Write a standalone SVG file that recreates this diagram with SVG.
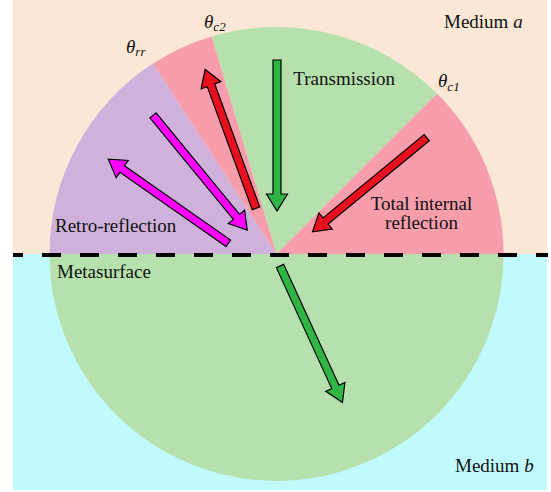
<svg xmlns="http://www.w3.org/2000/svg" width="551" height="492" viewBox="0 0 551 492">
<style>
.t{font-family:"Liberation Serif","Times New Roman",serif;font-size:19px;fill:#111}
.i{font-style:italic}
.s{font-size:13px;font-style:italic}
.arr{stroke:#000;stroke-width:1.2;stroke-linejoin:miter}
.g{fill:#2fb544}.r{fill:#e8101e}.m{fill:#ff00ff}
.pink{fill:#f79dac}.grn{fill:#b6e1ad}.pur{fill:#cfb1db}
</style>
<rect width="551" height="492" fill="#ffffff"/>
<g id="media">
<rect x="13" y="0" width="534" height="254" fill="#fbe7d6"/>
<rect x="13" y="254" width="534" height="236" fill="#c0fafd"/>
</g>
<g id="wedges">
<path class="pink" d="M276.5,254 L503.5,254 A227,227 0 0 0 437,93.5 Z"/>
<path class="grn" d="M276.5,254 L437,93.5 A227,227 0 0 0 211.6,36.5 Z"/>
<path class="pink" d="M276.5,254 L211.6,36.5 A227,227 0 0 0 152.9,63.6 Z"/>
<path class="pur" d="M276.5,254 L152.9,63.6 A227,227 0 0 0 49.5,254 Z"/>
<path class="grn" d="M276.5,254 L49.5,254 A227,227 0 0 0 116,414.5 Z"/>
<path class="grn" d="M276.5,254 L116,414.5 A227,227 0 0 0 341.4,471.5 Z"/>
<path class="grn" d="M276.5,254 L341.4,471.5 A227,227 0 0 0 503.5,254 Z"/>
</g>
<g id="metasurface">
<line x1="13" y1="255" x2="548" y2="255" stroke="#000" stroke-width="4" stroke-dasharray="19 19" stroke-dashoffset="9"/>
</g>
<g id="arrows">
<polygon class="arr g" transform="translate(277,60) rotate(90)" points="0,-4 134,-4 134,-10.5 151,0 134,10.5 134,4 0,4"/>
<polygon class="arr r" transform="translate(426.7,137.7) rotate(140.5)" points="0,-4 131,-4 131,-10.5 148,0 131,10.5 131,4 0,4"/>
<polygon class="arr r" transform="translate(256,208.3) rotate(-110.1)" points="0,-4 131,-4 131,-10.5 148,0 131,10.5 131,4 0,4"/>
<polygon class="arr m" transform="translate(153,115.3) rotate(50.6)" points="0,-4 131.5,-4 131.5,-10.5 148.5,0 131.5,10.5 131.5,4 0,4"/>
<polygon class="arr m" transform="translate(228.3,243.3) rotate(-145)" points="0,-4 129.5,-4 129.5,-10.5 146.5,0 129.5,10.5 129.5,4 0,4"/>
<polygon class="arr g" transform="translate(280,266) rotate(65.4)" points="0,-4 133,-4 133,-10.5 150,0 133,10.5 133,4 0,4"/>
</g>
<g id="labels">
<text class="t" x="444" y="28.3">Medium <tspan class="i">a</tspan></text>
<text class="t" x="455" y="471.7">Medium <tspan class="i">b</tspan></text>
<text class="t" x="293.3" y="85">Transmission</text>
<text class="t" x="421.5" y="209.5" text-anchor="middle">Total internal</text>
<text class="t" x="421.5" y="228.8" text-anchor="middle">reflection</text>
<text class="t" x="55" y="232.3">Retro-reflection</text>
<text class="t" x="57" y="278.3">Metasurface</text>
<text class="t i" x="438" y="87.3" font-size="20">θ<tspan class="s" dy="3.5">c</tspan><tspan class="s" font-style="normal">1</tspan></text>
<text class="t i" x="204" y="28.3" font-size="20">θ<tspan class="s" dy="3">c</tspan><tspan class="s" font-style="normal">2</tspan></text>
<text class="t i" x="126" y="52.7" font-size="20">θ<tspan class="s" dy="3">rr</tspan></text>
</g>
</svg>
